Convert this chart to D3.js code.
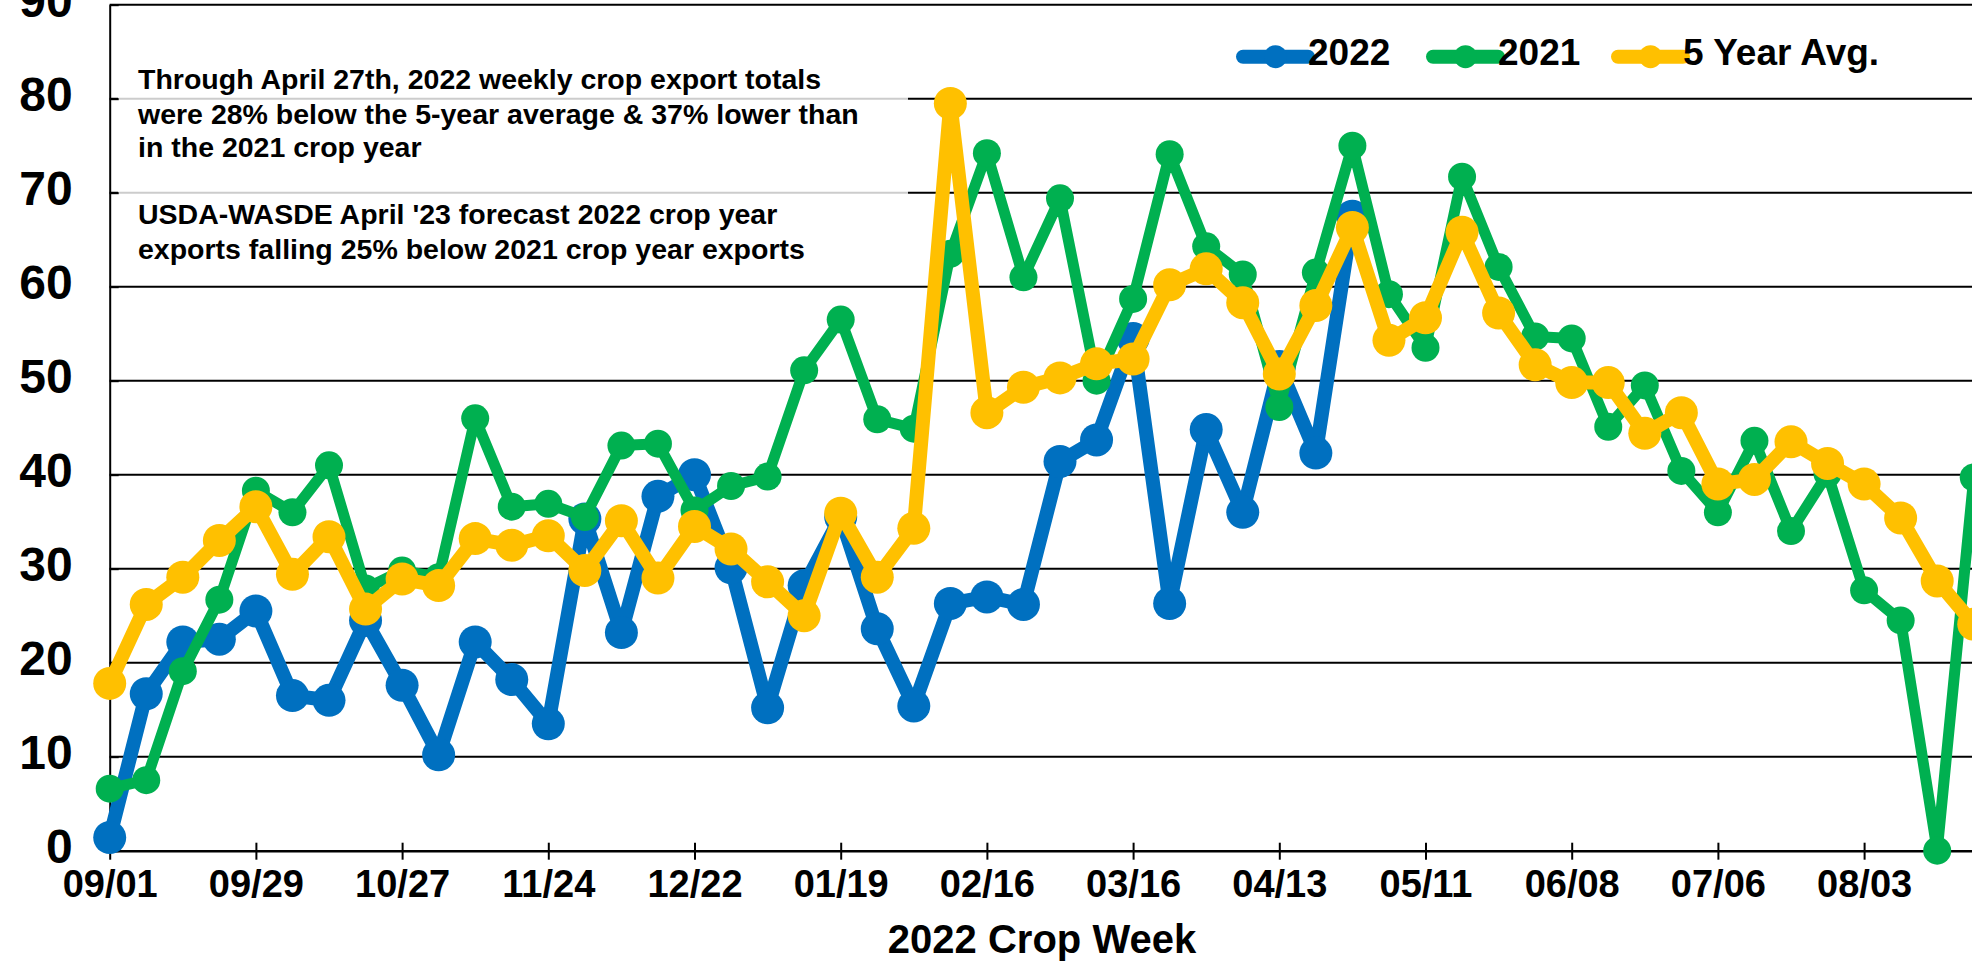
<!DOCTYPE html>
<html>
<head>
<meta charset="utf-8">
<script src="https://cdn.jsdelivr.net/npm/d3@7/dist/d3.min.js"></script>
<style>
  body {margin:0; background:#fff;}
  svg {display:block; font-family:"Liberation Sans", Arial, sans-serif; font-weight:bold;}
</style>
</head>
<body>
<div class="chart"></div>
<script>
    /*Data - weekly export inspections, one value per crop week starting 09/01*/

    const exports2022 = [1.4, 16.7, 22.2, 22.5, 25.5, 16.5, 16.0, 24.5, 17.6, 10.2,
        22.2, 18.2, 13.5, 35.3, 23.2, 37.7, 40.0, 30.1, 15.2, 28.2,
        35.5, 23.6, 15.4, 26.3, 27.0, 26.2, 41.4, 43.7, 54.5, 26.3,
        44.8, 36.0, 51.5, 42.3, 67.5];

    const exports2021 = [6.6, 7.5, 19.1, 26.7, 38.3, 36.0, 41.0, 27.9, 29.8, 29.1,
        46.0, 36.6, 36.9, 35.5, 43.1, 43.3, 36.2, 38.8, 39.8, 51.1,
        56.5, 45.9, 44.9, 63.5, 74.2, 61.0, 69.4, 50.0, 58.7, 74.1,
        64.3, 61.3, 47.2, 61.5, 75.0, 59.2, 53.5, 71.7, 62.1, 54.7,
        54.5, 45.1, 49.5, 40.4, 36.0, 43.6, 34.0, 40.1, 27.7, 24.5,
        0, 39.7];

    const fiveYearAvg = [17.8, 26.2, 29.1, 33.0, 36.6, 29.4, 33.4, 25.7, 28.9, 28.2,
        33.2, 32.5, 33.5, 29.8, 35.1, 29.0, 34.5, 32.1, 28.6, 25.0,
        35.9, 29.1, 34.3, 79.5, 46.6, 49.3, 50.3, 51.8, 52.3, 60.2,
        61.9, 58.3, 50.7, 58.0, 66.3, 54.3, 56.7, 65.8, 57.2, 51.7,
        49.8, 49.8, 44.4, 46.6, 39.0, 39.5, 43.5, 41.2, 39.0, 35.4,
        28.7, 24.1];

    const weekTicks = [0, 4, 8, 12, 16, 20, 24, 28, 32, 36, 40, 44, 48];
    const tickLabels = ["09/01","09/29","10/27","11/24","12/22","01/19","02/16",
        "03/16","04/13","05/11","06/08","07/06","08/03"];
    const yTicks = [0, 10, 20, 30, 40, 50, 60, 70, 80, 90];

    const seriesNames = ["2022", "2021", "5 Year Avg."];
    const seriesColors = ["#0070C0", "#00B050", "#FFC000"];

    const noteLines = [
        "Through April 27th, 2022 weekly crop export totals",
        "were 28% below the 5-year average & 37% lower than",
        "in the 2021 crop year",
        "USDA-WASDE April '23 forecast 2022 crop year",
        "exports falling 25% below 2021 crop year exports"
    ];

    /*Create Chart Area*/

    const width = 1972, height = 964;
    const plotLeft = 109.7, plotBottom = 850.7, plotTop = 4.7, weekW = 36.55;

    const svg = d3.select(".chart").append("svg")
        .attr("width", width)
        .attr("height", height);

    /*Generate Scales*/

    const xScale = d3.scaleLinear().domain([0, 52]).range([plotLeft, plotLeft + 52 * weekW]);
    const yScale = d3.scaleLinear().domain([0, 90]).range([plotBottom, plotTop]);

    /*Gridlines*/

    svg.append("g").selectAll("line")
        .data(yTicks.filter(d => d > 0))
        .enter().append("line")
        .attr("x1", plotLeft)
        .attr("x2", width)
        .attr("y1", d => yScale(d))
        .attr("y2", d => yScale(d))
        .attr("stroke", "#000")
        .attr("stroke-width", 2);

    /*Note box (semi transparent, greys the gridlines under it)*/

    svg.append("rect")
        .attr("x", 118)
        .attr("y", 48)
        .attr("width", 790)
        .attr("height", 226)
        .attr("fill", "#fff")
        .attr("fill-opacity", 0.8);

    const noteY = [89.3, 123.5, 157, 224, 259];
    svg.append("g").selectAll("text")
        .data(noteLines)
        .enter().append("text")
        .attr("x", 138)
        .attr("y", (d, i) => noteY[i])
        .attr("font-size", "28.5px")
        .attr("fill", "#000")
        .text(d => d);

    /*Generate axes*/

    const yAxis = d3.axisLeft(yScale)
        .tickValues(yTicks)
        .tickSize(-9)
        .tickSizeOuter(0)
        .tickPadding(37);

    const yG = svg.append("g")
        .attr("transform", `translate(${plotLeft},0)`)
        .call(yAxis);
    yG.select(".domain").attr("stroke", "#000").attr("stroke-width", 2);
    yG.selectAll(".tick line").attr("stroke", "#000").attr("stroke-width", 2);
    yG.selectAll(".tick text")
        .attr("font-size", "48px")
        .attr("font-family", "Liberation Sans, Arial, sans-serif")
        .attr("font-weight", "bold")
        .attr("fill", "#000")
        .attr("dy", "0.24em");

    const xAxis = d3.axisBottom(xScale)
        .tickValues(weekTicks)
        .tickFormat((d, i) => tickLabels[i])
        .tickSize(9)
        .tickSizeOuter(0)
        .tickPadding(10);

    const xG = svg.append("g")
        .attr("transform", `translate(0,${plotBottom})`)
        .call(xAxis);
    xG.select(".domain").attr("stroke", "#000").attr("stroke-width", 2.5);
    xG.selectAll(".tick line")
        .attr("y1", -8)
        .attr("stroke", "#000")
        .attr("stroke-width", 2);
    xG.selectAll(".tick text")
        .attr("font-size", "38px")
        .attr("font-family", "Liberation Sans, Arial, sans-serif")
        .attr("font-weight", "bold")
        .attr("fill", "#000");

    svg.append("text")
        .attr("x", 1042)
        .attr("y", 953)
        .attr("text-anchor", "middle")
        .attr("font-size", "40px")
        .attr("fill", "#000")
        .text("2022 Crop Week");

    /*Create Lines*/

    const series = [
        {name: seriesNames[0], values: exports2022, color: seriesColors[0], lw: 14, r: 16.5},
        {name: seriesNames[1], values: exports2021, color: seriesColors[1], lw: 11, r: 14},
        {name: seriesNames[2], values: fiveYearAvg, color: seriesColors[2], lw: 14, r: 16.5}
    ];

    const line = d3.line()
        .x((d, i) => xScale(i))
        .y(d => yScale(d));

    series.forEach(s => {
        const g = svg.append("g");
        g.append("path")
            .datum(s.values)
            .attr("d", line)
            .attr("fill", "none")
            .attr("stroke", s.color)
            .attr("stroke-width", s.lw)
            .attr("stroke-linejoin", "round");
        g.selectAll("circle")
            .data(s.values)
            .enter().append("circle")
            .attr("cx", (d, i) => xScale(i))
            .attr("cy", d => yScale(d))
            .attr("r", s.r)
            .attr("fill", s.color);
    });

    /*Legend*/

    const legendX = [1243, 1433, 1618];
    const legend = svg.append("g").selectAll("g")
        .data(series)
        .enter().append("g")
        .attr("transform", (d, i) => `translate(${legendX[i]},56.7)`);

    legend.append("line")
        .attr("x1", 0)
        .attr("x2", 65)
        .attr("stroke", d => d.color)
        .attr("stroke-width", 14)
        .attr("stroke-linecap", "round");
    legend.append("circle")
        .attr("cx", 32.5)
        .attr("r", 11.5)
        .attr("fill", d => d.color);
    legend.append("text")
        .attr("x", 65)
        .attr("y", 8.5)
        .attr("font-size", "37px")
        .attr("fill", "#000")
        .text(d => d.name);
</script>
</body>
</html>
